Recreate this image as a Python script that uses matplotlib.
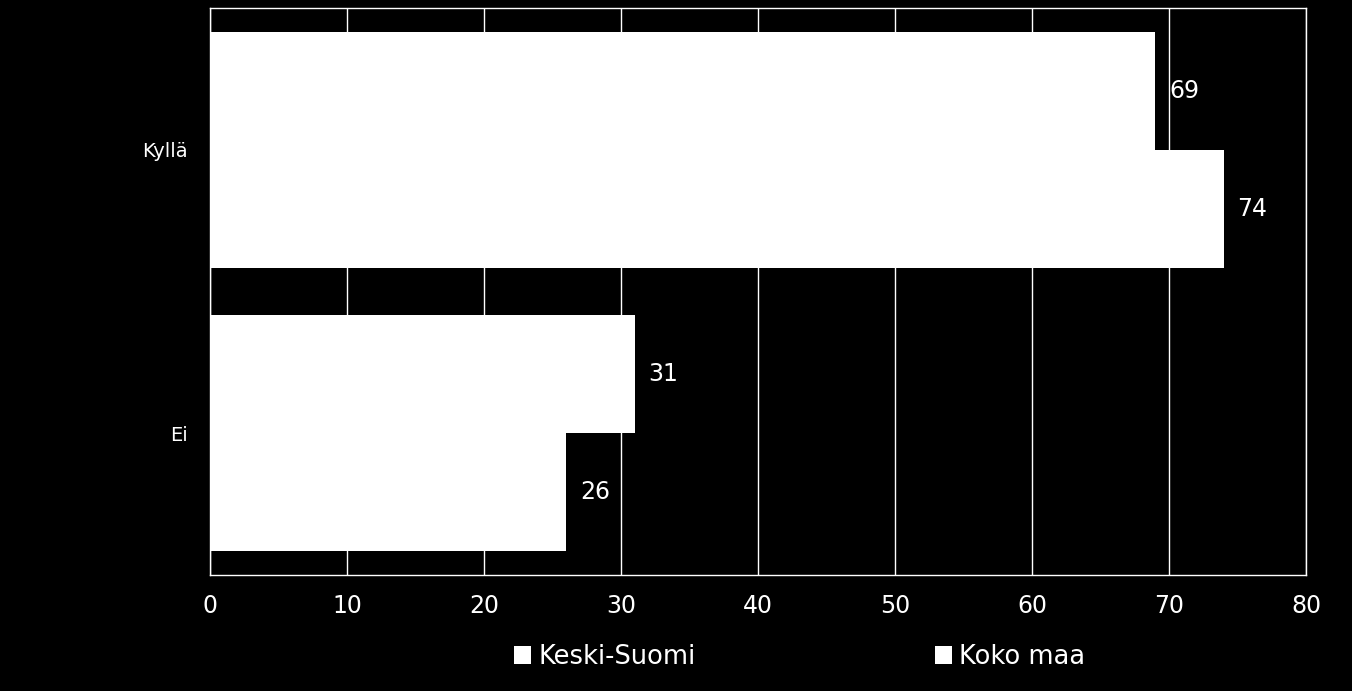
import matplotlib
matplotlib.use("Agg")
import matplotlib.pyplot as plt
import numpy as np

categories = ["Ei", "Kyllä"]
series_names = ["Keski-Suomi", "Koko maa"]
keski_suomi = [31, 69]
koko_maa = [26, 74]
xticks = [0, 10, 20, 30, 40, 50, 60, 70, 80]

plt.rcParams['font.family'] = ['DejaVu Sans']
fig = plt.figure(figsize=(13.52, 6.91), dpi=100, facecolor='black')
ax = fig.add_axes([210/1352, 1-575/691, (1306-210)/1352, (575-8)/691], facecolor='black')

y = np.arange(len(categories))
h = 0.417
b1 = ax.barh(y + h/2, keski_suomi, height=h, color='white', zorder=3, label=series_names[0])
b2 = ax.barh(y - h/2, koko_maa, height=h, color='white', zorder=3, label=series_names[1])

for bars, vals in ((b1, keski_suomi), (b2, koko_maa)):
    for rect, v in zip(bars, vals):
        ax.text(v + 1.0, rect.get_y() + rect.get_height()/2, f"{v}", color='white',
                fontsize=17, va='center', ha='left')

ax.set_xlim(0, 80)
ax.set_ylim(-0.5, 1.5)
ax.set_xticks(xticks)
ax.set_xticklabels([str(t) for t in xticks])
ax.set_yticks(y)
ax.set_yticklabels(categories)
ax.tick_params(axis='x', colors='white', labelsize=17, length=0, pad=14)
ax.tick_params(axis='y', colors='white', labelsize=14, length=0, pad=16)
ax.grid(axis='x', color='white', linewidth=1, zorder=0)
for s in ax.spines.values():
    s.set_color('white')
    s.set_linewidth(1)

fig.legend(handles=[b1, b2], labels=series_names, loc='center',
           bbox_to_anchor=(800/1352, 1-657/691), ncol=2, frameon=False,
           fontsize=18.5, labelcolor='white', handlelength=0.65, handleheight=0.65,
           handletextpad=0.3, columnspacing=9.3)

fig.savefig("out.png", dpi=100, facecolor='black')
